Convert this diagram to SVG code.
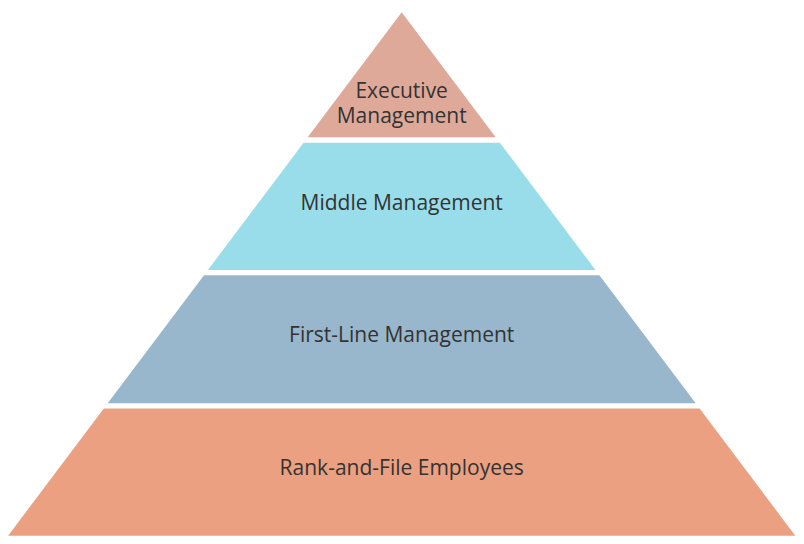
<svg xmlns="http://www.w3.org/2000/svg" width="804" height="544" viewBox="0 0 804 544">
<style>
.lbl{font-family:"Open Sans","Noto Sans","Liberation Sans",sans-serif;font-size:21px;fill:#333333;text-anchor:middle}
</style>
<rect width="804" height="544" fill="#ffffff"/>
<g id="executive">
<polygon points="401.7,12.3 495.7,137.3 307.7,137.3" fill="#dfa99a"/>
<text class="lbl" x="401.7" y="97.5">Executive</text>
<text class="lbl" x="401.7" y="122.5">Management</text>
</g>
<g id="middle">
<polygon points="303.6,142.7 499.8,142.7 595.5,270 207.9,270" fill="#98dde9"/>
<text class="lbl" x="401.7" y="209.5">Middle Management</text>
</g>
<g id="firstline">
<polygon points="204,275.2 599.4,275.2 695.7,403.3 107.7,403.3" fill="#98b7cc"/>
<text class="lbl" x="401.7" y="342.3">First-Line Management</text>
</g>
<g id="rankfile">
<polygon points="103.8,408.5 699.6,408.5 795.3,535.7 8.1,535.7" fill="#eba081"/>
<text class="lbl" x="401.7" y="475">Rank-and-File Employees</text>
</g>
<g id="connectors"></g>
</svg>
